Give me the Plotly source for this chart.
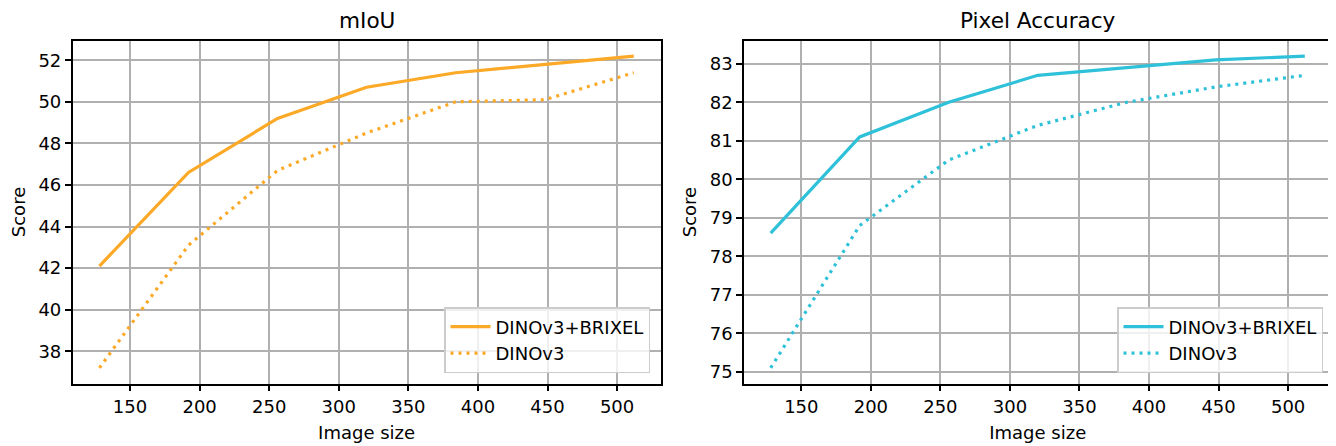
import plotly.graph_objects as go

image_size = [128, 192, 256, 320, 384, 448, 512]
miou_brixel = [42.1, 46.6, 49.2, 50.7, 51.4, 51.8, 52.2]
miou_dinov3 = [37.2, 43.1, 46.7, 48.5, 50.0, 50.1, 51.4]
pa_brixel = [78.6, 81.1, 82.0, 82.7, 82.9, 83.1, 83.2]
pa_dinov3 = [75.1, 78.8, 80.5, 81.4, 82.0, 82.4, 82.7]
x_ticks = [150, 200, 250, 300, 350, 400, 450, 500]

ORANGE = "#FBA927"
CYAN = "#2EC1D9"
# the page body has an 8px margin, so the figure is drawn 8px right and down
OFF = 8
W, H = 1336 - OFF, 446 - OFF
FONT = "DejaVu Sans"

fig = go.Figure()
fig.add_trace(go.Scatter(x=image_size, y=miou_brixel, mode="lines", name="DINOv3+BRIXEL",
                         line=dict(color=ORANGE, width=3.2), xaxis="x", yaxis="y", legend="legend"))
fig.add_trace(go.Scatter(x=image_size, y=miou_dinov3, mode="lines", name="DINOv3",
                         line=dict(color=ORANGE, width=3.2, dash="3px,5px"), xaxis="x", yaxis="y", legend="legend"))
fig.add_trace(go.Scatter(x=image_size, y=pa_brixel, mode="lines", name="DINOv3+BRIXEL",
                         line=dict(color=CYAN, width=3.2), xaxis="x2", yaxis="y2", legend="legend2"))
fig.add_trace(go.Scatter(x=image_size, y=pa_dinov3, mode="lines", name="DINOv3",
                         line=dict(color=CYAN, width=3.2, dash="3px,5px"), xaxis="x2", yaxis="y2", legend="legend2"))

def px_x(p):
    return (p - OFF) / W

def px_y(p):
    return 1 - (p - OFF) / H

common_axis = dict(
    showline=True, linecolor="black", linewidth=1.6, mirror=True,
    showgrid=True, gridcolor="#b0b0b0", gridwidth=1.5,
    ticks="outside", ticklen=6, tickwidth=1.5, tickcolor="black",
    tickfont=dict(family=FONT, size=18, color="black"),
    zeroline=False, automargin=False,
)

def xaxis(domain, anchor):
    return dict(common_axis, domain=domain, anchor=anchor, range=[108.8, 531.2],
                tickmode="array", tickvals=x_ticks,
                title=dict(text="Image size", font=dict(family=FONT, size=18, color="black"), standoff=10))

def yaxis(domain, anchor, rng, dtick):
    return dict(common_axis, domain=domain, anchor=anchor, range=rng, dtick=dtick, tick0=0,
                title=dict(text="Score", font=dict(family=FONT, size=18, color="black"), standoff=8))

ydom = [px_y(383.5), px_y(40.5)]
x1dom = [px_x(72.7), px_x(660.5)]
x2dom = [px_x(744), px_x(1331.5)]

legend_common = dict(
    bgcolor="rgba(255,255,255,0.8)", bordercolor="#cccccc", borderwidth=1.5,
    font=dict(family=FONT, size=18, color="black"),
    xanchor="right", yanchor="bottom", tracegroupgap=0, itemwidth=40,
)

fig.update_layout(
    width=W, height=H,
    margin=dict(l=0, r=0, t=0, b=0),
    paper_bgcolor="white", plot_bgcolor="white",
    font=dict(family=FONT, color="black"),
    xaxis=xaxis(x1dom, "y"),
    yaxis=yaxis(ydom, "x", [36.45, 52.95], 2),
    xaxis2=xaxis(x2dom, "y2"),
    yaxis2=yaxis(ydom, "x2", [74.695, 83.605], 1),
    legend=dict(legend_common, x=px_x(650), y=px_y(373)),
    legend2=dict(legend_common, x=px_x(1323), y=px_y(373)),
    annotations=[
        dict(text="mIoU", x=(x1dom[0] + x1dom[1]) / 2, y=px_y(21), xref="paper", yref="paper",
             showarrow=False, xanchor="center", yanchor="middle",
             font=dict(family=FONT, size=21.6, color="black")),
        dict(text="Pixel Accuracy", x=(x2dom[0] + x2dom[1]) / 2, y=px_y(21), xref="paper", yref="paper",
             showarrow=False, xanchor="center", yanchor="middle",
             font=dict(family=FONT, size=21.6, color="black")),
    ],
)

fig.write_html("out.html")
